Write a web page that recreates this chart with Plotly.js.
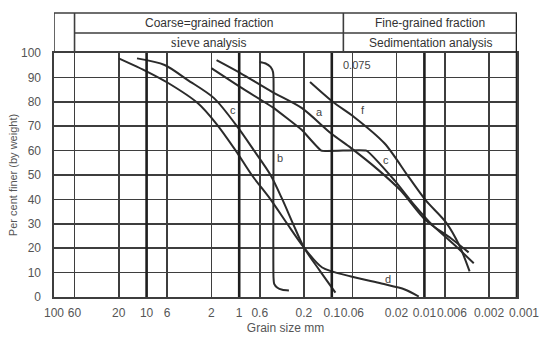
<!DOCTYPE html>
<html>
<head>
<meta charset="utf-8">
<script src="https://cdn.plot.ly/plotly-3.0.1.min.js"></script>
<style>html,body{margin:0;padding:0;background:#fff;}#chart{width:543px;height:344px;}</style>
</head>
<body>
<div id="chart"></div>
<script>
// Grain size (mm) and percent finer for each grading curve
const sizeC  = [20, 9.78, 5.85, 2.81, 1.79, 1.09, 0.732, 0.459, 0.303, 0.2, 0.127, 0.0618, 0.0291, 0.0163, 0.0115];
const finerC = [97.8, 92.3, 87.7, 79.5, 71.3, 60, 50, 40, 30, 20.3, 12.1, 8.4, 5.5, 3.1, 0.2];

const sizeD  = [12.7, 6.39, 3.59, 1.87, 1.02, 0.691, 0.459, 0.342, 0.262, 0.2, 0.1355, 0.0914];
const finerD = [97.8, 95.1, 88.9, 81.5, 69.2, 60, 50, 40, 30, 20.3, 10.9, 1.8];

const sizeA  = [1.756, 0.972, 0.437, 0.210, 0.1022, 0.0618, 0.0313, 0.0181, 0.00966, 0.00514, 0.00333];
const finerA = [97.1, 91.8, 84.0, 77.4, 67.1, 61.0, 52.0, 43.7, 31.4, 24.0, 18.3];

const sizeC2  = [2.0, 0.972, 0.437, 0.210, 0.1297, 0.0423, 0.0210, 0.0133, 0.00815, 0.00453, 0.00293];
const finerC2 = [93.8, 86.0, 77.8, 68.4, 60.0, 60.0, 47.8, 38.4, 29.4, 20.7, 13.8];

const sizeF  = [0.1718, 0.0970, 0.0571, 0.0270, 0.01473, 0.00966, 0.00585, 0.00419, 0.00325];
const finerF = [88.1, 79.9, 73.7, 63.0, 49.1, 39.6, 30.6, 21.1, 10.5];

const sizeB  = [0.6, 0.518, 0.459, 0.4314, 0.4262, 0.4262, 0.419, 0.3866, 0.342, 0.2905];
const finerB = [96.3, 95.7, 94.3, 92.2, 89.7, 8.0, 5.4, 3.8, 3.0, 2.7];

// Axis ticks
const xTickVals = [100, 60, 20, 10, 6, 2, 1, 0.6, 0.2, 0.1, 0.06, 0.02, 0.01, 0.006, 0.002, 0.001];
const xTickText = ['100', '60', '20', '10', '6', '2', '1', '0.6', '0.2', '0.1', '0.06', '0.02', '0.01', '0.006', '0.002', '0.001'];
const xShiftedTicks = ['0.006', '0.001'];   // labels nudged right as in the reference
const yTickVals = [0, 10, 20, 30, 40, 50, 60, 70, 80, 90, 100];
const thickSizes = [10, 1, 0.1, 0.01];

// Curve labels
const labelText = ['c', 'a', 'f', 'c', 'b', 'd', '0.075'];
const labelSize = [1.16, 0.1355, 0.0456, 0.0257, 0.359, 0.0245, 0.053];
const labelFiner = [76.6, 75.8, 76.6, 56.1, 56.9, 7.2, 95.0];

// Header table
const headerTop = ['Coarse=grained fraction', 'Fine-grained fraction'];
const headerBottom = ['<span style="font-family:Liberation Serif;font-size:14px">sieve</span> analysis', 'Sedimentation analysis'];
const headerSplit = [60, 0.075, 0.001];

const LINE = '#2b2b2b';
const GRID = '#3e3e3e';
const FONT = '"Liberation Sans", Arial, sans-serif';
const lg = v => Math.log10(v);

function curve(x, y, smooth, xa) {
  return {x: x, y: y, type: 'scatter', mode: 'lines', hoverinfo: 'skip', xaxis: xa || 'x',
    line: {color: LINE, width: 2, shape: 'spline', smoothing: smooth}};
}
const traces = [
  curve(sizeC, finerC, 0.8),
  curve(sizeD, finerD, 0.8),
  curve(sizeA, finerA, 0.8),
  curve(sizeC2, finerC2, 0.3),
  curve(sizeF, finerF, 0.8, 'x2'),
  curve(sizeB, finerB, 0.6)
];

const hTop = 1.164, hMid = 1.082;
const shapes = [];
thickSizes.forEach(s => shapes.push({type: 'line', xref: 'x', yref: 'paper', x0: s, x1: s, y0: 0, y1: 1, line: {color: '#1e1e1e', width: 2.6}}));
// right border (continues through header)
shapes.push({type: 'line', xref: 'x', yref: 'paper', x0: 0.001, x1: 0.001, y0: 0, y1: hTop, line: {color: '#1e1e1e', width: 2.6}});
// header box
shapes.push({type: 'line', xref: 'x', yref: 'paper', x0: 100, x1: 100, y0: 1, y1: hTop, line: {color: GRID, width: 1.6}});
shapes.push({type: 'line', xref: 'x', yref: 'paper', x0: headerSplit[0], x1: headerSplit[0], y0: 1, y1: hTop, line: {color: GRID, width: 1.6}});
shapes.push({type: 'line', xref: 'x', yref: 'paper', x0: headerSplit[1], x1: headerSplit[1], y0: 1, y1: hTop, line: {color: GRID, width: 1.6}});
shapes.push({type: 'line', xref: 'x', yref: 'paper', x0: 100, x1: 0.001, y0: hTop, y1: hTop, line: {color: GRID, width: 1.6}});
shapes.push({type: 'line', xref: 'x', yref: 'paper', x0: headerSplit[0], x1: 0.001, y0: hMid, y1: hMid, line: {color: GRID, width: 1.6}});

const annotations = [];
labelText.forEach((t, i) => annotations.push({x: lg(labelSize[i]), y: labelFiner[i], xref: 'x', yref: 'y', text: t, showarrow: false,
  xanchor: 'center', yanchor: 'middle', font: {family: FONT, size: 11, color: '#444'}}));
for (let i = 0; i < 2; i++) {
  const xc = (lg(headerSplit[i]) + lg(headerSplit[i + 1])) / 2;
  annotations.push({x: xc, y: (hTop + hMid) / 2, xref: 'x', yref: 'paper', text: headerTop[i], showarrow: false,
    xanchor: 'center', yanchor: 'middle', font: {family: FONT, size: 12, color: '#333'}});
  annotations.push({x: xc, y: (hMid + 1) / 2, xref: 'x', yref: 'paper', text: headerBottom[i], showarrow: false,
    xanchor: 'center', yanchor: 'middle', font: {family: FONT, size: 12, color: '#333'}});
}

const tickFont = {family: FONT, size: 12, color: '#555'};
const layout = {
  width: 543, height: 344,
  margin: {l: 54, r: 26, t: 53, b: 47, pad: 0},
  paper_bgcolor: '#ffffff', plot_bgcolor: '#ffffff',
  showlegend: false,
  font: {family: FONT, size: 12, color: '#444'},
  xaxis: {
    type: 'log', range: [2, -3],
    tickmode: 'array', tickvals: xTickVals,
    ticktext: xTickText.map(t => xShiftedTicks.includes(t) ? '' : t), tickangle: 0,
    showgrid: true, gridcolor: GRID, gridwidth: 1.6,
    showline: true, mirror: true, linecolor: GRID, linewidth: 1.6,
    ticks: '', ticklabelstandoff: 4, tickfont: tickFont,
    zeroline: false,
    title: {text: 'Grain size mm', font: {family: FONT, size: 12, color: '#555'}, standoff: 4}
  },
  xaxis2: {
    type: 'log', range: [2, -3], overlaying: 'x', side: 'bottom', anchor: 'y',
    tickmode: 'array', tickvals: xShiftedTicks.map(Number), ticktext: xShiftedTicks, tickangle: 0,
    ticklabelshift: -7, showgrid: false, zeroline: false,
    showline: true, linecolor: 'rgba(0,0,0,0)', linewidth: 1.6,
    ticks: '', ticklabelstandoff: 4, tickfont: tickFont
  },
  yaxis: {
    range: [0, 100],
    tickmode: 'array', tickvals: yTickVals,
    showgrid: true, gridcolor: GRID, gridwidth: 1.6,
    showline: true, mirror: true, linecolor: GRID, linewidth: 1.6,
    ticks: '', ticklabelstandoff: 9, tickfont: tickFont,
    zeroline: false,
    title: {text: 'Per cent finer (by weight)', font: {family: FONT, size: 11, color: '#555'}, standoff: 1}
  },
  shapes: shapes,
  annotations: annotations
};

Plotly.newPlot('chart', traces, layout, {displayModeBar: false, staticPlot: true});
</script>
</body>
</html>
